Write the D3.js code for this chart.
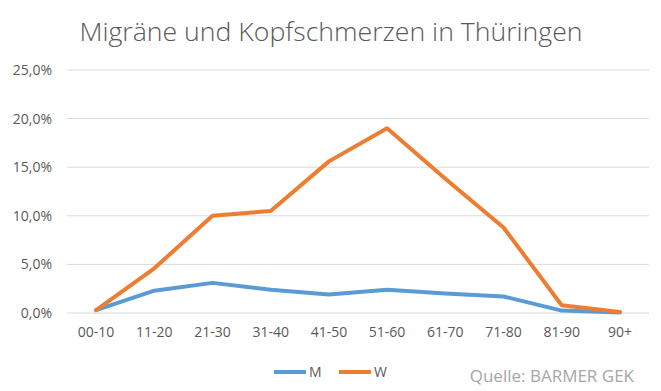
<!DOCTYPE html>
<meta charset="utf-8">
<style>
body { margin: 0; background: #fff; }
.axis line { visibility: hidden; }
.axis .domain { display: none; }
.axis text { font: 14px "Open Sans", sans-serif; fill: #595959; }
.title { font: 300 25px "Open Sans", sans-serif; fill: #595959; }
.legend text { font: 14px "Open Sans", sans-serif; fill: #595959; }
.source { font: 17px "Open Sans", sans-serif; fill: #a6a6a6; }
</style>
<svg width="661" height="391"></svg>
<script src="https://d3js.org/d3.v7.min.js"></script>
<script>
// age groups
var categories = ["00-10", "11-20", "21-30", "31-40", "41-50", "51-60", "61-70", "71-80", "81-90", "90+"];
// share in percent
var seriesM = [0.3, 2.3, 3.1, 2.4, 1.9, 2.4, 2.0, 1.7, 0.25, 0.05];
var seriesW = [0.3, 4.6, 10.0, 10.5, 15.6, 19.0, 13.8, 8.8, 0.8, 0.1];
var yTicks = [0, 5, 10, 15, 20, 25];

var series = [
  {name: "M", values: seriesM, color: "#5b9bd5"},
  {name: "W", values: seriesW, color: "#ed7d31"}
];

var svg = d3.select("svg"),
    margin = {top: 70, right: 12, bottom: 78, left: 67},
    width = svg.attr("width") - margin.left - margin.right,
    height = svg.attr("height") - margin.top - margin.bottom,
    g = svg.append("g").attr("transform", "translate(" + margin.left + "," + margin.top + ")");

var x = d3.scaleBand().domain(categories).range([0, width]);
var y = d3.scaleLinear().domain([0, 25]).range([height, 0]);

// gridlines
g.selectAll(".grid")
  .data(yTicks)
  .enter().append("line")
    .attr("x1", 0).attr("x2", width)
    .attr("y1", d => y(d)).attr("y2", d => y(d))
    .attr("stroke", "#d9d9d9")
    .attr("stroke-width", 1);

g.append("g")
  .attr("class", "axis")
  .call(d3.axisLeft(y).tickValues(yTicks).tickSize(0).tickPadding(15)
    .tickFormat(d => d3.format(".1f")(d).replace(".", ",") + "%"));

g.append("g")
  .attr("class", "axis")
  .attr("transform", "translate(0," + height + ")")
  .call(d3.axisBottom(x).tickSize(0).tickPadding(14));

var line = d3.line()
  .x((d, i) => x(categories[i]) + x.bandwidth() / 2)
  .y(d => y(d));

g.selectAll(".series")
  .data(series)
  .enter().append("path")
    .attr("fill", "none")
    .attr("stroke", d => d.color)
    .attr("stroke-width", 4)
    .attr("stroke-linejoin", "round")
    .attr("stroke-linecap", "round")
    .attr("d", d => line(d.values));

// title
svg.append("text")
  .attr("class", "title")
  .attr("x", 331)
  .attr("y", 41)
  .attr("text-anchor", "middle")
  .attr("textLength", 503)
  .attr("lengthAdjust", "spacingAndGlyphs")
  .text("Migräne und Kopfschmerzen in Thüringen");

// legend
var legend = svg.append("g").attr("class", "legend")
  .selectAll("g")
  .data(series)
  .enter().append("g")
    .attr("transform", (d, i) => "translate(" + (274 + i * 65) + ",372)");
legend.append("line")
  .attr("x1", 0).attr("x2", 32)
  .attr("stroke", d => d.color)
  .attr("stroke-width", 4);
legend.append("text")
  .attr("x", 35)
  .attr("dy", "0.35em")
  .text(d => d.name);

svg.append("text")
  .attr("class", "source")
  .attr("x", 634)
  .attr("y", 382)
  .attr("text-anchor", "end")
  .text("Quelle: BARMER GEK");
</script>
